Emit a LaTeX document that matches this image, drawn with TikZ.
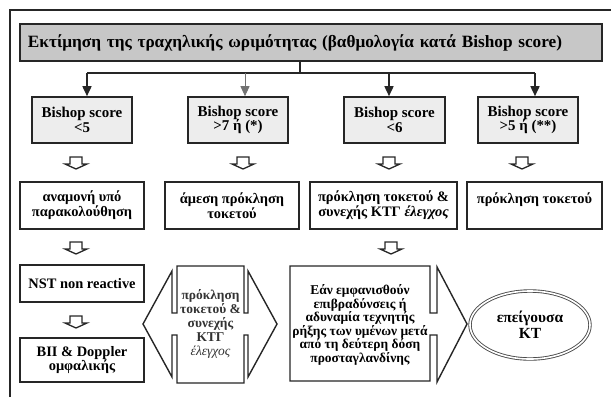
\documentclass[tikz,border=0pt]{standalone}
\usepackage{fontspec}
\setmainfont{Liberation Serif}
\usetikzlibrary{arrows.meta,shapes.geometric}
\begin{document}
\begin{tikzpicture}[x=1bp,y=-1bp,
  titlebox/.style={draw=black!85, line width=2.2bp, fill=black!22, minimum width=582bp, minimum height=37bp, text width=566bp, align=left, inner sep=0pt, font=\bfseries\fontsize{17.3}{19}\selectfont},
  bishop/.style={draw=black!85, line width=1.6bp, fill=black!7, minimum width=100bp, minimum height=46bp, align=center, inner sep=0pt, font=\bfseries\fontsize{15}{14.5}\selectfont},
  stepbox/.style={draw=black!85, line width=1.6bp, fill=white, minimum height=47bp, align=center, inner sep=0pt, font=\bfseries\fontsize{14.5}{15}\selectfont},
  smalltext/.style={align=center, inner sep=0pt, font=\bfseries\fontsize{13.5}{13.5}\selectfont},
  shapeline/.style={draw=black!85, line width=1.4bp, fill=white, line join=miter},
  tree/.style={draw=black!85, line width=1.6bp},
  tip/.style={-{Triangle[length=10bp,width=9bp]}},
  hollow/.pic={\draw[black!85, line width=1.3bp, fill=white] (-6,0) -- (6,0) -- (6,7) -- (11,7) -- (0,12) -- (-11,7) -- (-6,7) -- cycle;}
]
\useasboundingbox (0,0) rectangle (611,397);
% outer frame (clipped)
\draw[black!85, line width=1.5bp] (10,397) -- (10,10) -- (611,10);

% title
\node[titlebox] (title) at (311,42.5) {Εκτίμηση της τραχηλικής ωριμότητας (βαθμολογία κατά Bishop score)};

% Bishop boxes
\node[bishop] (b1) at (82,120) {Bishop score\\<5};
\node[bishop] (b2) at (238,120) {Bishop score\\>7 ή (*)};
\node[bishop, minimum width=101bp] (b3) at (394.5,120) {Bishop score\\<6};
\node[bishop] (b4) at (528,120) {Bishop score\\>5 ή (**)};

% tree connectors
\coordinate (stem) at (300,73);
\coordinate (j1) at (87,73);
\coordinate (j2) at (245,73);
\coordinate (j3) at (389,73);
\coordinate (j4) at (535,73);
\draw[tree] (title.south -| stem) -- (stem);
\draw[tree] (j1) -- (j4);
\draw[tree, tip] (j1) -- (j1 |- b1.north);
\draw[draw=black!55, line width=0.9bp, tip] (j2) -- (j2 |- b2.north);
\draw[tree, tip] (j3) -- (j3 |- b3.north);
\draw[tree, tip] (j4) -- (j4 |- b4.north);

% hollow arrows row 1
\pic at (76,157) {hollow};
\pic at (243,157) {hollow};
\pic at (389,157) {hollow};
\pic at (522,157) {hollow};

% second row
\node[stepbox, minimum width=124bp] (r1) at (82,205.5) {αναμονή υπό\\παρακολούθηση};
\node[stepbox, minimum width=134bp] (r2) at (232,205.5) {άμεση πρόκληση\\τοκετού};
\node[stepbox, minimum width=147bp] (r3) at (383.5,205.5) {πρόκληση τοκετού \&\\συνεχής ΚΤΓ \textit{έλεγχος}};
\node[stepbox, minimum width=135bp] (r4) at (534.5,205.5) {πρόκληση τοκετού\\\mbox{}};

\pic at (76,242) {hollow};
\pic at (391,242) {hollow};

% left column
\node[stepbox, minimum width=124bp, minimum height=37bp] (nst) at (82,283.5) {NST non reactive};
\pic at (76,316) {hollow};
\node[stepbox, minimum width=124bp, minimum height=44bp] (bii) at (82,360) {BII \& Doppler\\ομφαλικής};

% left-right arrow callout
\draw[shapeline] (177,266) -- (244,266) -- (244,313) -- (248,313) -- (248,271) -- (277,324)
  -- (248,377) -- (248,335) -- (244,335) -- (244,383) -- (177,383) -- (177,335) -- (172,335)
  -- (172,377) -- (143,324) -- (172,271) -- (172,313) -- (177,313) -- cycle;
\node[smalltext, text=black!80, font=\bfseries\fontsize{13.5}{14}\selectfont] (hex) at (210.5,324) {πρόκληση\\τοκετού \&\\συνεχής\\ΚΤΓ\\\textit{\mdseries έλεγχος}};

% right arrow callout
\draw[shapeline] (290,266) -- (430,266) -- (430,313) -- (437,313) -- (437,267) -- (467,324)
  -- (437,382) -- (437,335) -- (430,335) -- (430,381) -- (290,381) -- cycle;
\node[smalltext] (cond) at (360,325) {Εάν εμφανισθούν\\επιβραδύνσεις ή\\αδυναμία τεχνητής\\ρήξης των υμένων μετά\\από τη δεύτερη δόση\\προσταγλανδίνης};

% ellipse
\node[ellipse, draw=black!70, double=white, double distance=1.6bp, line width=0.9bp,
  minimum width=120bp, minimum height=68bp, inner sep=0pt, align=center,
  font=\bfseries\fontsize{15.5}{16}\selectfont] (ct) at (530,325) {επείγουσα\\ΚΤ};
\end{tikzpicture}
\end{document}
